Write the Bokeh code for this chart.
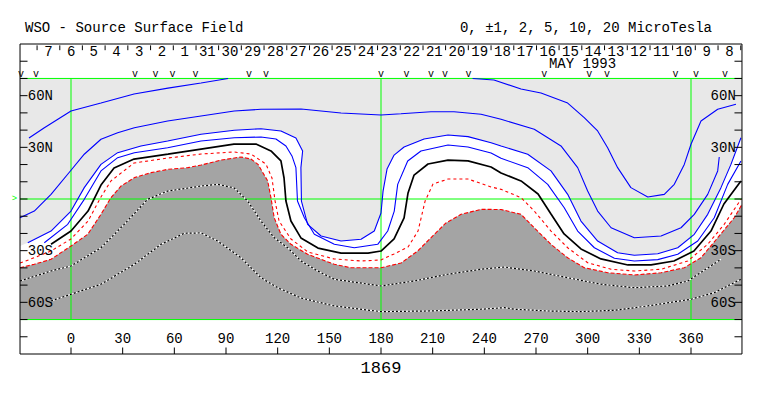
from bokeh.plotting import figure
from bokeh.models import Range1d
from bokeh.embed import file_html
from bokeh.resources import INLINE
from bokeh.core.properties import value

FONT = value("Liberation Mono")

# ---------------- data window ----------------
LON_MIN, LON_MAX = -29.6, 389.6      # drawn map window (Carrington longitude)
LAT_MIN, LAT_MAX = -70, 70           # map latitude window
BOX_TOP, BOX_BOT = 90, -90           # outer frame

# ---------------- contour lines (lon, lat) ----------------
# strongest positive contour (two pieces)
pos_a1_lon = [-24.4, -15.7, 0.0, 17.4, 36.6, 56.3, 75.5, 91.2]
pos_a1_lat = [35.4, 41.2, 51.1, 55.7, 61.0, 64.4, 67.4, 70.0]
pos_a2_lon = [233.2, 245.6, 261.3, 272.9, 288.4, 298.0, 305.8, 311.6, 317.4, 325.1, 334.9,
              344.5, 350.3, 356.1, 360.0, 365.8, 375.5, 386.1]
pos_a2_lat = [70.0, 69.1, 63.9, 61.5, 55.7, 47.2, 39.5, 29.8, 18.2, 6.6, 1.2,
              2.7, 8.5, 20.1, 31.8, 45.3, 52.1, 55.0]
# +5
pos5_lon = [-29.6, -21.3, -11.6, 0.0, 7.7, 17.4, 27.1, 36.8, 56.1, 75.5, 94.8, 110.3, 133.6,
            156.8, 180.0, 191.6, 209.0, 222.4, 238.1, 249.7, 269.0, 284.5, 294.2, 300.0, 305.8,
            313.6, 327.1, 342.6, 354.2, 361.9, 369.7, 375.5, 376.4]
pos5_lat = [-10.9, -7.0, 2.7, 16.7, 26.0, 34.7, 38.5, 41.4, 45.3, 48.2, 51.1, 52.1, 52.3,
            49.9, 48.8, 49.5, 50.7, 50.7, 49.2, 46.3, 40.5, 30.8, 18.2, 4.6, -7.0,
            -16.7, -22.5, -21.5, -16.7, -8.9, 2.7, 16.3, 24.4]
# +2
pos2_lon = [-25.1, -11.6, 0.0, 7.7, 17.4, 27.1, 40.6, 56.1, 75.5, 94.8, 110.3, 121.9, 130.6,
            134.5, 133.5, 133.8, 137.4, 145.2, 156.8, 168.4, 176.1, 180.0, 181.2, 183.5, 187.6,
            193.4, 205.0, 218.9, 230.5, 243.9, 249.7, 265.2, 278.7, 288.4, 296.1, 305.8, 317.4,
            327.1, 340.7, 352.3, 361.9, 369.7, 377.4, 383.2, 389.0]
pos2_lat = [-25.4, -18.6, -7.0, 6.6, 20.1, 26.9, 30.8, 33.7, 37.6, 39.9, 40.8, 39.5, 35.4,
            27.9, 18.2, -1.2, -14.7, -21.5, -24.4, -23.4, -18.6, -8.1, 4.6, 17.4, 25.5,
            30.2, 34.8, 37.2, 36.2, 32.7, 30.8, 26.0, 16.3, 2.7, -12.8, -24.4, -31.2,
            -32.7, -31.8, -28.3, -20.5, -8.9, 6.6, 20.1, 35.6]
# +1
pos1_lon = [-15.5, -1.9, 7.7, 17.4, 27.1, 36.8, 56.1, 75.5, 94.8, 110.3, 119.0, 124.8, 128.3,
            130.6, 131.5, 135.5, 141.3, 152.9, 164.5, 178.1, 183.9, 187.7, 189.7, 195.5, 203.2,
            218.9, 230.5, 243.9, 249.7, 265.2, 276.8, 286.4, 294.2, 303.9, 315.5, 327.1, 340.7,
            352.3, 363.9, 373.5, 381.3, 389.0]
pos1_lat = [-25.4, -14.7, -0.2, 16.3, 24.0, 26.9, 29.8, 33.7, 35.6, 36.0, 34.8, 30.8, 25.0,
            18.2, -1.2, -10.9, -20.5, -26.3, -28.3, -26.3, -18.6, -7.0, 8.5, 22.1, 27.9,
            31.4, 30.2, 26.7, 23.6, 18.2, 8.5, -5.1, -18.6, -28.3, -34.4, -36.0, -35.2,
            -32.1, -24.4, -10.9, 8.5, 22.1]
# neutral line (0)
zero_lon = [-11.6, 0.0, 9.9, 17.4, 25.0, 36.6, 56.3, 75.5, 94.6, 107.4, 116.1, 121.9, 123.7,
            124.8, 127.7, 133.5, 143.4, 156.8, 172.5, 180.0, 187.6, 193.4, 195.7, 199.2, 207.3,
            218.9, 230.5, 243.9, 249.7, 261.3, 271.2, 278.7, 286.3, 296.1, 307.7, 323.4, 336.8,
            350.1, 361.7, 371.6, 379.1, 389.0]
zero_lat = [-26.3, -18.6, -7.0, 8.1, 18.0, 23.2, 26.1, 29.0, 31.9, 31.9, 27.9, 22.1, 12.2,
            -1.2, -12.8, -22.6, -28.5, -31.4, -31.4, -30.2, -23.2, -11.0, 3.5, 13.9, 20.3,
            22.6, 22.1, 18.6, 15.1, 10.5, 2.9, -8.7, -20.3, -29.0, -34.8, -38.3, -38.3,
            -36.0, -30.2, -18.6, -2.9, 10.5]
# -1
neg1_lon = [-29.6, -20.3, -11.6, 0.0, 9.9, 17.4, 23.2, 36.6, 56.3, 75.5, 94.6, 104.5, 113.2,
            116.7, 118.5, 120.8, 127.7, 137.6, 152.7, 168.4, 180.0, 187.6, 195.7, 201.5, 205.6,
            210.2, 218.9, 230.5, 243.9, 249.7, 261.3, 269.0, 278.7, 288.4, 300.0, 313.6, 327.1,
            342.6, 358.1, 369.7, 379.3, 389.0]
neg1_lat = [-37.2, -33.7, -30.2, -23.2, -12.8, 1.2, 10.5, 20.9, 23.8, 26.1, 27.3, 26.1, 20.3,
            12.2, -1.2, -12.8, -23.2, -30.8, -34.8, -36.0, -35.4, -31.9, -27.9, -18.6, -1.2,
            8.7, 11.6, 11.6, 7.0, 5.6, 0.8, -7.0, -18.6, -28.3, -37.0, -40.8, -41.8,
            -40.8, -36.0, -26.3, -14.7, -0.2]
# -2 (edge of dark shading)
neg2_lon = [-29.6, -21.3, -11.6, 0.0, 9.7, 17.4, 23.2, 29.0, 36.8, 46.5, 56.1, 67.8, 75.5,
            87.1, 98.7, 104.5, 108.6, 114.2, 116.1, 118.0, 121.9, 127.7, 137.4, 152.9, 162.6,
            180.0, 191.6, 201.3, 211.0, 217.7, 226.5, 238.1, 249.7, 261.3, 269.0, 278.7, 288.4,
            298.0, 311.6, 327.1, 342.6, 356.1, 365.8, 375.5, 385.1, 389.6]
neg2_lat = [-39.9, -37.9, -35.0, -27.3, -20.5, -8.9, 0.8, 7.5, 12.4, 15.3, 17.2, 18.2, 19.7,
            22.6, 24.4, 23.2, 20.1, 10.5, 0.8, -10.9, -20.5, -26.3, -32.1, -37.9, -39.9,
            -39.9, -37.2, -30.2, -20.5, -13.9, -8.9, -6.0, -6.1, -8.9, -16.7, -26.3, -34.1,
            -39.9, -42.8, -44.1, -42.8, -39.9, -34.1, -22.5, -10.9, -3.1]
# -5
neg5_lon = [-29.6, -11.6, 0.0, 17.4, 30.9, 44.5, 56.1, 75.5, 85.2, 94.8, 102.6, 110.3, 118.0,
            125.8, 133.6, 143.2, 152.9, 180.0, 199.3, 218.7, 238.1, 251.6, 269.0, 288.4, 307.7,
            327.1, 346.5, 358.1, 377.4]
neg5_lat = [-47.6, -41.8, -38.9, -28.3, -14.7, -0.2, 4.6, 7.5, 8.5, 6.4, -1.2, -12.8, -22.5,
            -28.3, -36.0, -41.8, -46.6, -50.5, -47.6, -43.7, -40.8, -39.5, -41.8, -45.7, -49.5,
            -51.5, -50.5, -47.6, -35.0]
# -10
neg10_lon = [-11.6, 0.0, 17.4, 36.8, 52.3, 65.8, 75.5, 85.2, 98.7, 110.3, 120.0, 133.6, 152.9,
             180.0, 209.0, 238.1, 251.6, 257.4, 276.8, 296.1, 315.5, 334.9, 360.0, 373.5, 389.0]
neg10_lat = [-59.2, -55.3, -49.5, -37.9, -26.3, -19.9, -19.7, -24.4, -34.1, -45.7, -51.5, -57.5, -62.1,
             -65.4, -65.0, -64.0, -63.1, -64.0, -65.0, -65.4, -64.6, -62.1, -58.2, -54.4, -46.6]

# ---------------- axis / annotation values ----------------
lon_ticks = [0, 30, 60, 90, 120, 150, 180, 210, 240, 270, 300, 330, 360]
lat_ticks = [-80, -70, -60, -50, -40, -30, -20, -10, 0, 10, 20, 30, 40, 50, 60, 70, 80]
lat_label_vals = [60, 30, -30, -60]
lat_label_txt = ["60N", "30N", "30S", "60S"]
grid_lons = [0, 180, 360]
grid_lats = [70, 0, -70]
# day boundaries (Carrington longitude) and day numbers of CR 1869
day_ticks = [-19.7, -6.5, 6.6, 19.8, 33.0, 46.2, 59.4, 72.6, 85.7, 98.9, 112.1, 125.3, 138.5,
             151.6, 164.8, 178.0, 191.2, 204.4, 217.5, 230.7, 243.9, 257.1, 270.3, 283.4,
             296.6, 309.8, 323.0, 336.2, 349.3, 362.5, 375.7, 388.9]
day_labels = ["7", "6", "5", "4", "3", "2", "1", "31", "30", "29", "28", "27", "26", "25",
              "24", "23", "22", "21", "20", "19", "18", "17", "16", "15", "14", "13", "12",
              "11", "10", "9", "8"]
obs_lons = [-29.0, -20.3, 37.2, 49.1, 58.9, 72.3, 103.3, 113.2, 180.0, 194.8, 209.0, 217.2,
            230.8, 274.8, 300.9, 311.2, 351.0, 362.9, 379.7]
rotation = "1869"
title_left = "WSO - Source Surface Field"
title_right = "0, \u00b11, 2, 5, 10, 20 MicroTesla"
month_label = "MAY 1993"

# ---------------- figure ----------------
W, H = 755, 390
S = 620 / 360.0
X0, Y0 = 70.5, 198.5          # canvas position of lon 0 / lat 0
TUP = 4.5 / S                 # lift of text baselines
p = figure(width=W, height=H, output_backend="svg", toolbar_location=None,
           x_range=Range1d(-X0 / S, (W - X0) / S),
           y_range=Range1d(-(H - Y0) / S, Y0 / S),
           min_border=0)
p.axis.visible = False
p.xgrid.visible = False
p.ygrid.visible = False
p.outline_line_color = None
p.background_fill_color = "white"
p.border_fill_color = "white"

# shading
p.quad(left=[LON_MIN], right=[LON_MAX], bottom=[LAT_MIN], top=[LAT_MAX],
       fill_color="#e8e8e8", line_color=None)
p.patch([LON_MIN] + pos2_lon + [LON_MAX, LON_MAX, LON_MIN],
        [-27.3] + pos2_lat + [36.0, LAT_MIN, LAT_MIN],
        fill_color="white", line_color=None)
p.patch(neg2_lon + [LON_MAX, LON_MAX, LON_MIN],
        neg2_lat + [-3.1, LAT_MIN, LAT_MIN],
        fill_color="#a4a4a4", line_color=None)

# green grid
p.segment(x0=[LON_MIN] * 3, x1=[LON_MAX] * 3, y0=grid_lats, y1=grid_lats,
          line_color="#00ff00", line_width=1)
p.segment(x0=grid_lons, x1=grid_lons, y0=[LAT_MIN] * 3, y1=[LAT_MAX] * 3,
          line_color="#00ff00", line_width=1)
p.text(x=[LON_MIN - 3.2], y=[0], text=[">"], text_color="#00ff00",
       text_font=FONT, text_font_size="9px", text_align="center", text_baseline="middle")

# negative contours inside shading (black/white dotted)
for xs, ys in [(neg5_lon, neg5_lat), (neg10_lon, neg10_lat)]:
    p.line(xs, ys, line_color="white", line_width=1.2)
    p.line(xs, ys, line_color="black", line_width=1.2, line_dash="2 2")

# -2 and -1 contours (red dashed)
p.line(neg2_lon, neg2_lat, line_color="#ff0000", line_width=1.1, line_dash="4 2")
p.line(neg1_lon, neg1_lat, line_color="#ff0000", line_width=1.1, line_dash="3 3")
# positive contours
p.multi_line([pos_a1_lon, pos_a2_lon, pos5_lon, pos2_lon, pos1_lon],
             [pos_a1_lat, pos_a2_lat, pos5_lat, pos2_lat, pos1_lat],
             line_color="#0000ff", line_width=1.1)
# neutral line
p.line(zero_lon, zero_lat, line_color="black", line_width=1.7)

# outer frame
p.multi_line([[LON_MIN, LON_MAX, LON_MAX, LON_MIN, LON_MIN]],
             [[BOX_TOP, BOX_TOP, BOX_BOT, BOX_BOT, BOX_TOP]],
             line_color="black", line_width=1)

# latitude ticks (inward, both sides)
tl = 7.5 / S
p.segment(x0=[LON_MIN] * len(lat_ticks), x1=[LON_MIN + tl] * len(lat_ticks),
          y0=lat_ticks, y1=lat_ticks, line_color="black", line_width=1)
p.segment(x0=[LON_MAX] * len(lat_ticks), x1=[LON_MAX - tl] * len(lat_ticks),
          y0=lat_ticks, y1=lat_ticks, line_color="black", line_width=1)
lab_dy = 2.8
p.text(x=[LON_MIN + 4.5] * 4, y=[v - lab_dy + TUP for v in lat_label_vals], text=lat_label_txt,
       text_font=FONT, text_font_size="14px", text_align="left",
       text_baseline="alphabetic", text_color="black")
p.text(x=[LON_MAX - 3.6] * 4, y=[v - lab_dy + TUP for v in lat_label_vals], text=lat_label_txt,
       text_font=FONT, text_font_size="14px", text_align="right",
       text_baseline="alphabetic", text_color="black")

# longitude ticks and labels
p.segment(x0=lon_ticks, x1=lon_ticks, y0=[BOX_BOT] * len(lon_ticks),
          y1=[BOX_BOT + 6.5 / S] * len(lon_ticks), line_color="black", line_width=1)
p.text(x=lon_ticks, y=[-83.4 + TUP] * len(lon_ticks), text=[str(v) for v in lon_ticks],
       text_font=FONT, text_font_size="14px", text_align="center",
       text_baseline="alphabetic", text_color="black")
p.text(x=[180], y=[-100.3 + TUP], text=[rotation], text_font=FONT, text_font_size="17px",
       text_align="center", text_baseline="alphabetic", text_color="black")

# day ticks and labels (top band)
p.segment(x0=day_ticks, x1=day_ticks, y0=[BOX_TOP - 0.8] * len(day_ticks),
          y1=[BOX_TOP - 3.6] * len(day_ticks), line_color="black", line_width=1)
mids = [(day_ticks[i] + day_ticks[i + 1]) / 2 for i in range(len(day_labels))]
p.text(x=mids, y=[83.2 + TUP] * len(mids), text=day_labels, text_font=FONT,
       text_font_size="14px", text_align="center", text_baseline="alphabetic",
       text_color="black")
p.text(x=[297.0], y=[75.5 + TUP], text=[month_label], text_font=FONT, text_font_size="14px",
       text_align="center", text_baseline="alphabetic", text_color="black")
p.text(x=obs_lons, y=[71.0 + TUP * 0.6] * len(obs_lons), text=["v"] * len(obs_lons),
       text_font=FONT, text_font_size="10px", text_align="center",
       text_baseline="alphabetic", text_color="black")

# titles
p.text(x=[-26.7], y=[96.4 + TUP], text=[title_left], text_font=FONT, text_font_size="14px",
       text_align="left", text_baseline="alphabetic", text_color="black")
p.text(x=[372.2], y=[96.4 + TUP], text=[title_right], text_font=FONT, text_font_size="14px",
       text_align="right", text_baseline="alphabetic", text_color="black")

open("out.html", "w").write(file_html(p, INLINE))
